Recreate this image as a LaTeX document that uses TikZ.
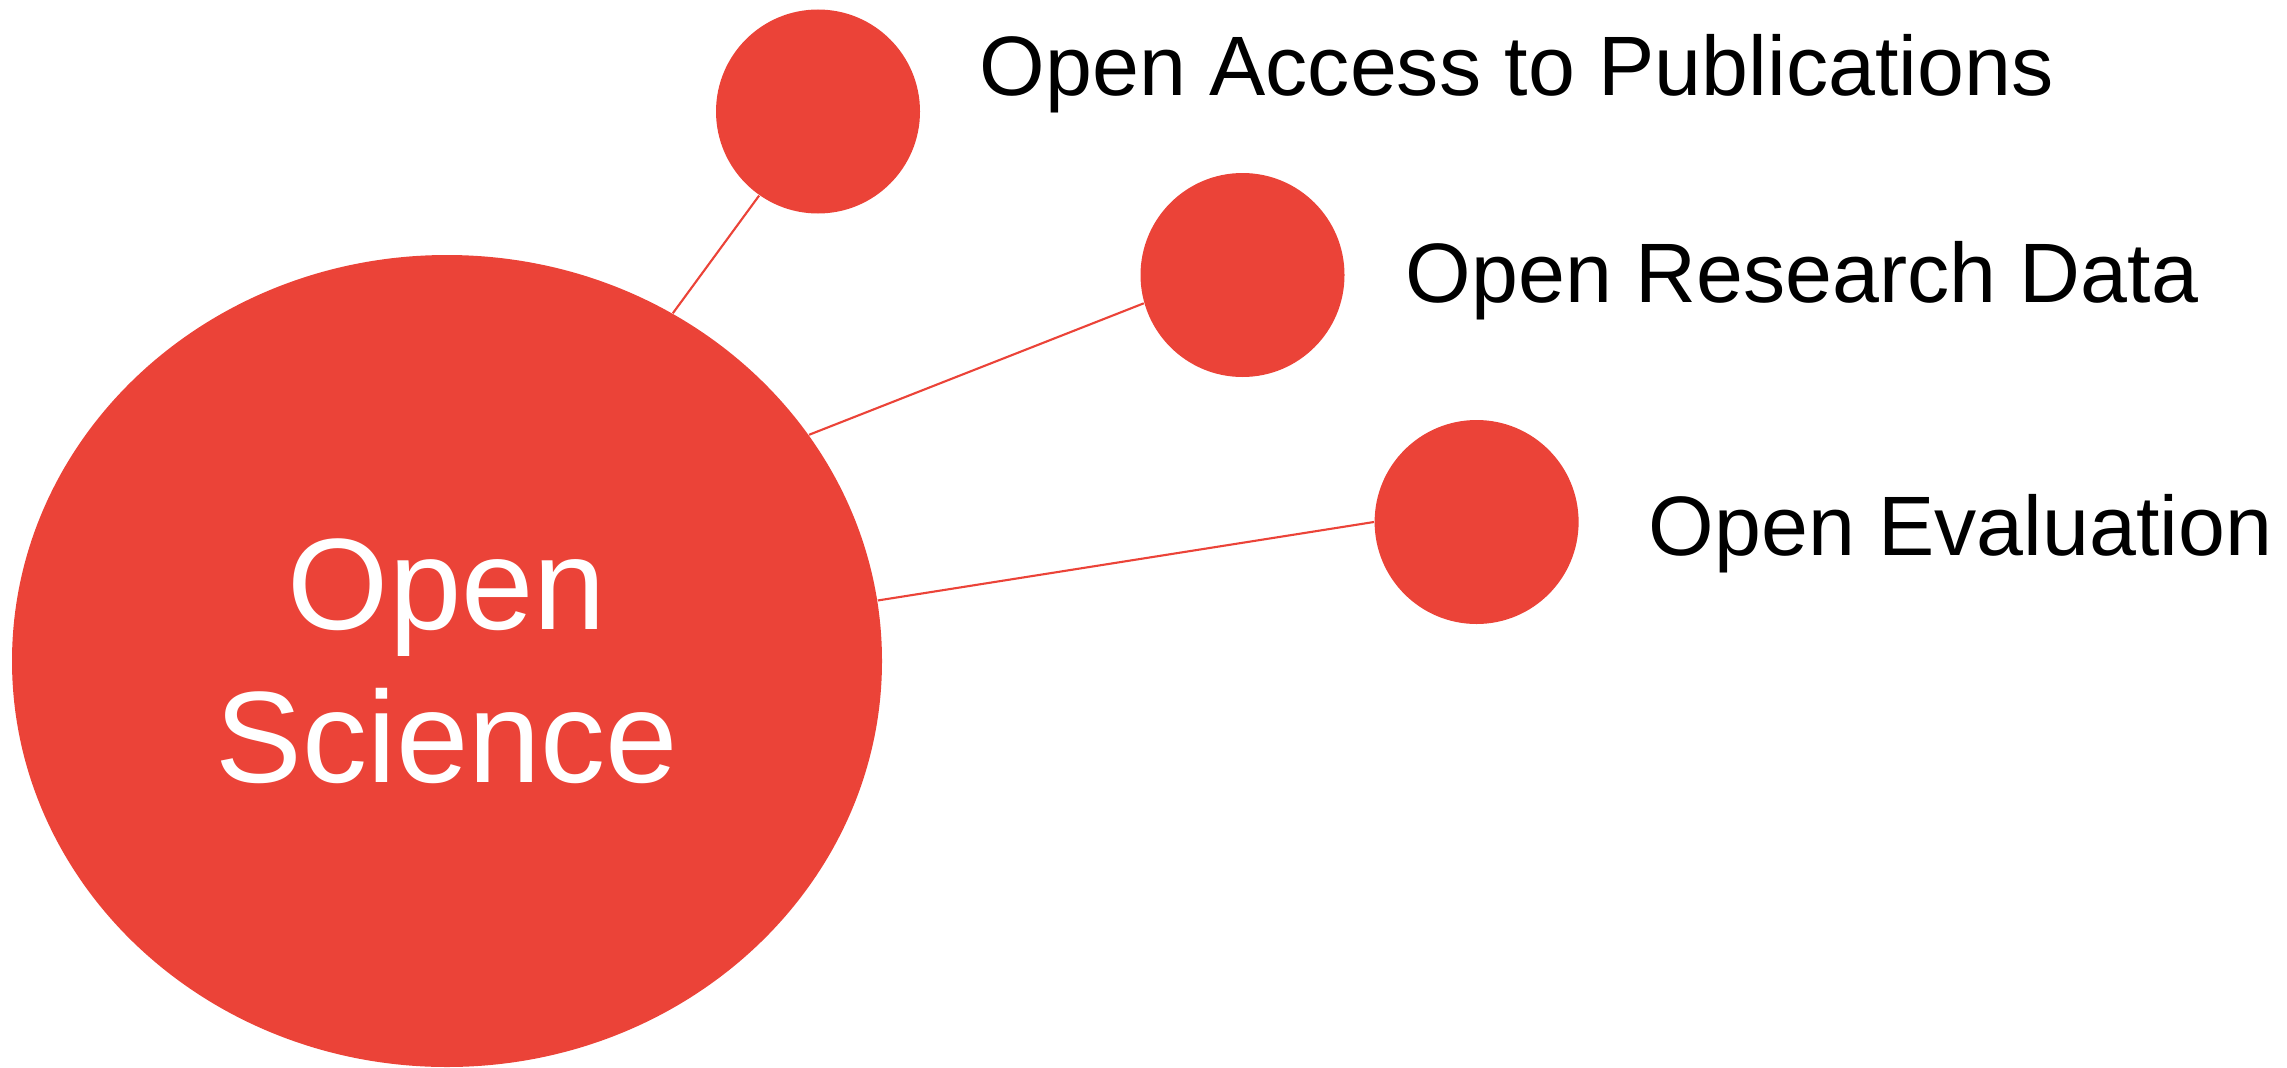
\documentclass[tikz,border=0pt]{standalone}
\usepackage{fontspec}
\setmainfont{Liberation Sans}
\usetikzlibrary{shapes.geometric}
\definecolor{osred}{HTML}{EB4338}

\begin{document}
\begin{tikzpicture}[
    core/.style={ellipse,fill=osred,inner sep=0pt,minimum width=8.70cm,minimum height=8.12cm,
        text=white,align=center,font=\fontsize{37}{43.5}\selectfont},
    bubble/.style={circle,fill=osred,inner sep=0pt,minimum size=2.04cm},
    topic/.style={anchor=base west,inner sep=0pt,font=\fontsize{24}{28.8}\selectfont},
    link/.style={draw=osred,line width=0.6pt}]

    \useasboundingbox (0,0) rectangle (22.87,10.67);

    % Nodo central
    \node[core] (os) at (4.47,4.06) {Open\\Science};

    % Burbujas
    \node[bubble] (oa) at (8.18,9.555) {};
    \node[bubble] (ord) at (12.425,7.92) {};
    \node[bubble] (oe) at (14.766,5.45) {};

    % Etiquetas
    \node[topic] (oalab) at (9.79,9.72) {Open Access to Publications};
    \node[topic] (ordlab) at (14.05,7.645) {Open Research Data};
    \node[topic] (oelab) at (16.48,5.115) {Open Evaluation};

    % Conexiones
    \draw[link] (os.57.8) -- (oa.235);
    \draw[link] (os.32.7) -- (ord.196.7);
    \draw[link] (os.8.15) -- (oe.180);

\end{tikzpicture}
\end{document}
